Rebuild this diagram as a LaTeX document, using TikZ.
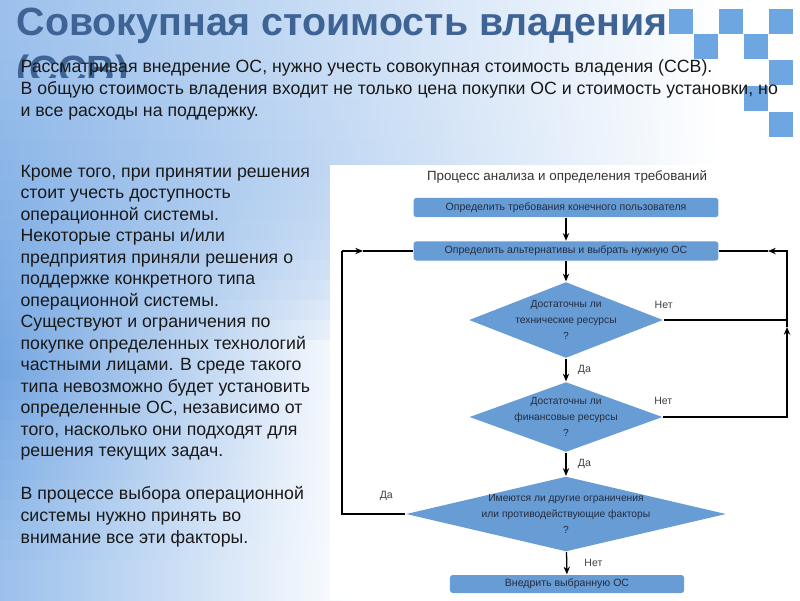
\documentclass[tikz,border=0pt]{standalone}
\usepackage{fontspec}
\setmainfont{Liberation Sans}
\usepackage{tikz}
\usepackage{xcolor}
\usetikzlibrary{shapes.geometric,arrows.meta}

\definecolor{titleblue}{RGB}{62,100,150}
\definecolor{flowblue}{RGB}{104,156,212}
\definecolor{sqblue}{RGB}{110,166,226}
\definecolor{bgblue}{RGB}{115,165,225}
\definecolor{toplight}{RGB}{155,192,236}
\definecolor{flowtext}{RGB}{35,45,65}

\begin{document}
\begin{tikzpicture}[x=0.025cm,y=-0.025cm,line width=0.9pt,
  >={Stealth[length=5.5pt,width=4.5pt]},
  box node/.style={rectangle,rounded corners=2pt,fill=flowblue,inner sep=0pt,
    text=flowtext,font=\fontsize{7.5}{9}\selectfont},
  decision node/.style={diamond,fill=flowblue,inner sep=0pt},
  decision text/.style={align=center,text=flowtext,font=\fontsize{7.3}{11.4}\selectfont},
  slide text/.style={anchor=base west,align=left,inner sep=0pt,text=black!90,
    font=\fontsize{12.6}{15.3}\selectfont}]

  \useasboundingbox (0,0) rectangle (800,600);

  % background in strips and corner squares
  \fill[white] (0,0) rectangle (800,600);
  \foreach \i in {0,...,29} {
    \pgfmathtruncatemacro\p{\i<18 ? max(0,100-(18-\i)*6) : max(0,100-(\i-18)*10)}
    \pgfmathtruncatemacro\w{\i<8 ? 720 : max(360,720-(\i-8)*40)}
    \colorlet{stripL}{bgblue!\p!toplight}
    \shade[left color=stripL,middle color=stripL!45!white,right color=white]
      (0,20*\i) rectangle (\w,20*\i+21);
  }
  \foreach \x/\y in {669/9,719/9,769/9,694/34,744/34,769/60,744/86,769/112}
    \fill[sqblue] (\x,\y) rectangle ++(24,25);

  % heading
  \node[anchor=base west,inner sep=0pt,text=titleblue,font=\fontsize{28}{32}\selectfont\bfseries]
    (title) at (16,35) {Совокупная стоимость владения};
  \begin{scope}
    \clip (0,40) rectangle (300,77);
    \node[anchor=base west,inner sep=0pt,text=titleblue,font=\fontsize{28}{32}\selectfont\bfseries]
      (subtitle) at (16,83) {(ССВ)};
  \end{scope}

  % last baselines given, the node base is the last line
  \node[slide text] (intro) at (20,116)
    {Рассматривая внедрение ОС, нужно учесть совокупная стоимость владения (ССВ).\\
     В общую стоимость владения входит не только цена покупки ОС и стоимость установки, но\\
     и все расходы на поддержку.};

  \node[slide text] (notes) at (20,543)
    {Кроме того, при принятии решения\\
     стоит учесть доступность\\
     операционной системы.\\
     Некоторые страны и/или\\
     предприятия приняли решения о\\
     поддержке конкретного типа\\
     операционной системы.\\
     Существуют и ограничения по\\
     покупке определенных технологий\\
     частными лицами. В среде такого\\
     типа невозможно будет установить\\
     определенные ОС, независимо от\\
     того, насколько они подходят для\\
     решения текущих задач.\\[15.3pt]
     В процессе выбора операционной\\
     системы нужно принять во\\
     внимание все эти факторы.};

  % flowchart panel
  \fill[white] (330,165) rectangle (800,600);
  \node[text=black!80,font=\fontsize{9.5}{11}\selectfont] (ftitle) at (567,177)
    {Процесс анализа и определения требований};

  \node[box node,minimum width=7.62cm,minimum height=0.48cm] (b1) at (566,207.5)
    {Определить требования конечного пользователя};
  \node[box node,minimum width=7.62cm,minimum height=0.48cm] (b2) at (566,251)
    {Определить альтернативы и выбрать нужную ОС};
  \node[decision node,minimum width=4.85cm,minimum height=1.9cm,
    label={[decision text]center:Достаточны ли\\технические ресурсы\\?}] (d1) at (566,320) {};
  \node[decision node,minimum width=4.83cm,minimum height=1.75cm,
    label={[decision text]center:Достаточны ли\\финансовые ресурсы\\?}] (d2) at (566,417) {};
  \node[decision node,minimum width=8cm,minimum height=1.875cm,
    label={[decision text]center:Имеются ли другие ограничения\\или противодействующие факторы\\?}] (d3) at (566,514) {};
  \node[box node,minimum width=5.85cm,minimum height=0.45cm] (b4) at (567,584)
    {Внедрить выбранную ОС};

  \coordinate (lb) at (342,514);
  \coordinate (lt) at (342,251);
  \coordinate (la) at (363,251);
  \coordinate (rb) at (787,417);
  \coordinate (rj) at (787,320);
  \coordinate (rm) at (787,327);
  \coordinate (rt) at (787,251);
  \coordinate (ra) at (768,251);

  \path[->,every node/.style={text=black!75,font=\fontsize{7.5}{9}\selectfont}]
  (b1) edge (b2)
  (b2) edge (d1)
  (d1) edge node[right=4.7pt] {Да} (d2)
  (d2) edge node[right=4.7pt] {Да} (d3)
  (d3) edge node[right=8.8pt] {Нет} (b4);

  % loops back to the choice of OS
  \begin{scope}[every node/.style={text=black!75,font=\fontsize{7.5}{9}\selectfont}]
    \draw (d3.west) -- node[pos=0.3,above=6pt] {Да} (lb) -- (lt);
    \draw[->] (lt) -- (la);
    \draw (la) -- (b2.west);
    \draw (d1.east) -- node[pos=0,above=4pt] {Нет} (rj);
    \draw[->] (d2.east) -- node[pos=0,above=4.7pt] {Нет} (rb) -- (rm);
    \draw[->] (rm) -- (rt) -- (ra);
    \draw (ra) -- (b2.east);
  \end{scope}
\end{tikzpicture}
\end{document}
